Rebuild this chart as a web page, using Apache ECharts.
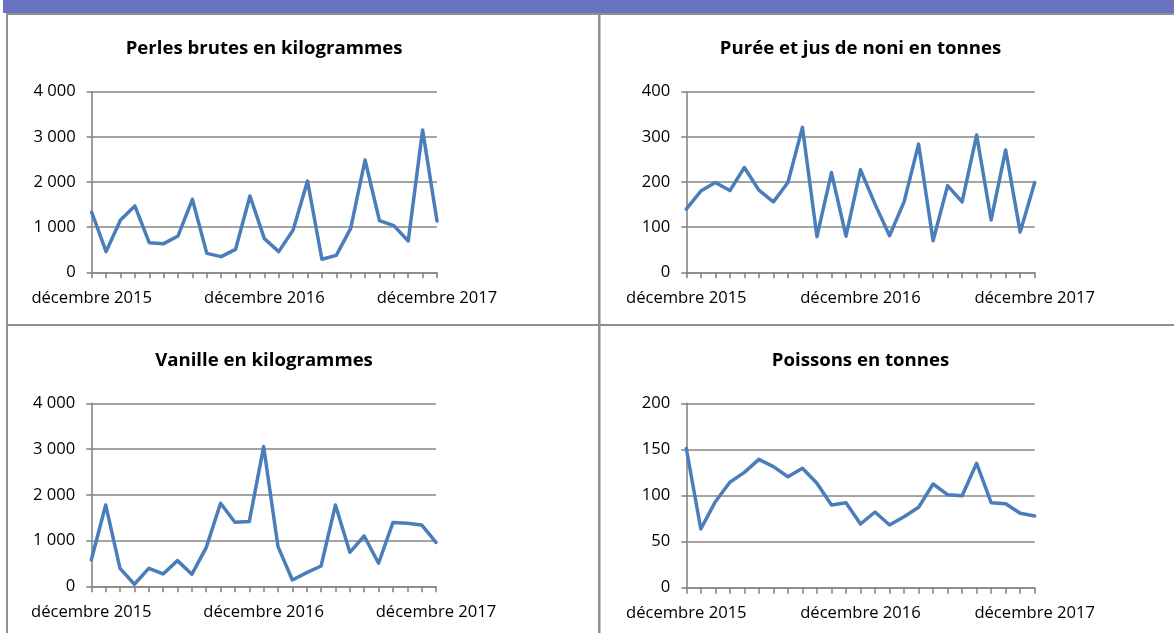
<!DOCTYPE html>
<html>
<head>
<meta charset="utf-8">
<script src="https://cdn.jsdelivr.net/npm/echarts@6/dist/echarts.min.js"></script>
<style>
html,body{margin:0;padding:0;background:#fff;}
#chart{width:1174px;height:633px;}
</style>
</head>
<body>
<div id="chart"></div>
<script>
const months = ["décembre 2015","janvier 2016","février 2016","mars 2016","avril 2016","mai 2016","juin 2016","juillet 2016","août 2016","septembre 2016","octobre 2016","novembre 2016","décembre 2016","janvier 2017","février 2017","mars 2017","avril 2017","mai 2017","juin 2017","juillet 2017","août 2017","septembre 2017","octobre 2017","novembre 2017","décembre 2017"];

const titles = ["Perles brutes en kilogrammes","Purée et jus de noni en tonnes","Vanille en kilogrammes","Poissons en tonnes"];

const perles = [1330,458,1160,1470,657,635,805,1616,420,347,509,1690,745,458,937,2022,288,376,974,2487,1144,1033,694,3151,1137];
const noni = [140,180,199,181,232,182,156,199,321,79,221,80,227,151,81,156,284,70,192,156,304,116,271,89,199];
const vanille = [576,1778,393,44,393,270,561,262,845,1814,1399,1414,3053,867,138,299,444,1778,743,1100,503,1392,1377,1341,962];
const poissons = [151,63.7,93.3,114.3,125.1,139.2,131.3,120.4,129.5,113.2,89.7,92.2,69.1,82.1,68,77,87.2,112.5,100.9,99.8,134.9,92.2,91.1,80.7,77.8];

const yMax = [4000,400,4000,200];
const yInterval = [1000,100,1000,50];

const seriesData = [perles, noni, vanille, poissons];

const grids = [
  {left:91.7, top:91.7, width:345.3, height:180.6},
  {left:686.3, top:91.7, width:348.4, height:180.6},
  {left:91.3, top:403.3, width:344.7, height:183},
  {left:686.3, top:403.3, width:348.4, height:184.4}
];
const titlePos = [[264,39],[860.5,39],[264,351],[860.5,351]];

const FONT = "'Open Sans', sans-serif";
const AXIS_GRAY = '#868686';
const BORDER_GRAY = '#8e8e8e';

function fmt(v){
  const s = String(Math.round(v));
  return s.replace(/\B(?=(\d{3})+(?!\d))/g, ' ');
}

const option = {
  animation:false,
  backgroundColor:'#ffffff',
  title: titles.map((t,i)=>({
    text:t, left:titlePos[i][0], top:titlePos[i][1], padding:0,
    textAlign:'center', textVerticalAlign:'top',
    textStyle:{fontFamily:FONT, fontWeight:'bold', fontSize:18.6, color:'#000'}
  })),
  grid: grids.map(g=>Object.assign({containLabel:false}, g)),
  xAxis: grids.map((g,i)=>({
    type:'category', gridIndex:i, data:months, boundaryGap:false,
    axisLine:{lineStyle:{color:AXIS_GRAY, width:1.6}},
    axisTick:{show:true, interval:0, length:6, lineStyle:{color:AXIS_GRAY, width:1.6}},
    axisLabel:{interval:11, color:'#000', fontFamily:FONT, fontSize:16.6, margin:17},
    splitLine:{show:false}
  })),
  yAxis: grids.map((g,i)=>({
    type:'value', gridIndex:i, min:0, max:yMax[i], interval:yInterval[i],
    axisLine:{show:true, lineStyle:{color:AXIS_GRAY, width:1.6}},
    axisTick:{show:true, length:5, lineStyle:{color:AXIS_GRAY, width:1.6}},
    axisLabel:{color:'#000', fontFamily:FONT, fontSize:16.6, margin:16, formatter:fmt},
    splitLine:{show:true, lineStyle:{color:AXIS_GRAY, width:1.6}}
  })),
  series: seriesData.map((d,i)=>({
    type:'line', xAxisIndex:i, yAxisIndex:i, data:d,
    showSymbol:false, symbol:'none',
    lineStyle:{color:'#4a7ebb', width:3.5, join:'round', cap:'round'},
    itemStyle:{color:'#4a7ebb'}
  })),
  graphic:[
    {type:'rect', shape:{x:3,y:0,width:1171,height:13}, style:{fill:'#6872c0'}, silent:true},
    {type:'rect', shape:{x:6,y:13,width:1168,height:2}, style:{fill:BORDER_GRAY}, silent:true},
    {type:'rect', shape:{x:6,y:13,width:2,height:620}, style:{fill:BORDER_GRAY}, silent:true},
    {type:'rect', shape:{x:598,y:13,width:2.5,height:620}, style:{fill:BORDER_GRAY}, silent:true},
    {type:'rect', shape:{x:6,y:324,width:1168,height:2}, style:{fill:BORDER_GRAY}, silent:true}
  ]
};

const chart = echarts.init(document.getElementById('chart'), null, {renderer:'canvas'});
chart.setOption(option);
</script>
</body>
</html>
